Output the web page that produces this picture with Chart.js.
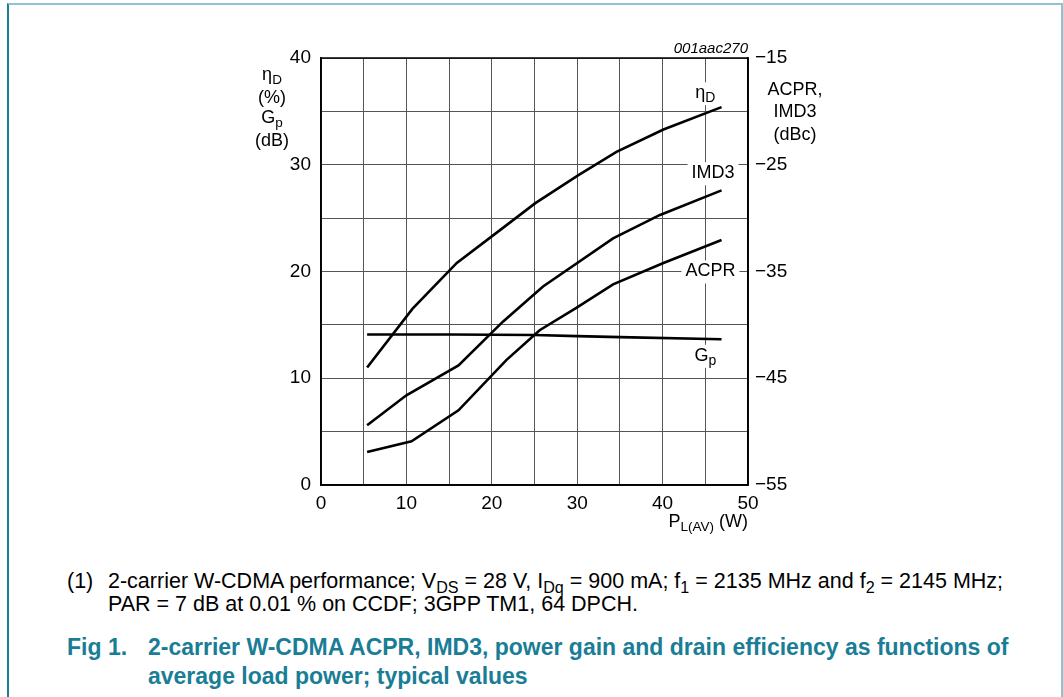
<!DOCTYPE html>
<html lang="en">
<head>
<meta charset="UTF-8">
<title>001aac270</title>
<script src="https://cdn.jsdelivr.net/npm/chart.js"></script>
<style>
  body { margin: 0; background: #fff; font-family: "Liberation Sans", Arial, sans-serif; color: #000; }
  #page { position: relative; width: 1063px; height: 697px; overflow: hidden; }
  #frame { position: absolute; left: 7px; top: 3px; width: 1052px; height: 720px;
           border-left: 2px solid #1b7f98; border-top: 2px solid #8fc3d0; border-right: 2px solid #8fc3d0; }
  #wrap { position: absolute; left: 0; top: 0; width: 1063px; height: 540px; }
  .t { position: absolute; font-size: 18px; line-height: 20px; white-space: nowrap; }
  .c { text-align: center; }
  sub { font-size: 0.75em; vertical-align: -0.3em; line-height: 0; }
  .note { font-size: 21.5px; line-height: 22px; }
  .cap { color: #1a7d96; font-weight: bold; font-size: 23px; line-height: 26px; }
</style>
</head>
<body>
<div id="page">
  <div id="frame"></div>
  <div id="wrap"><canvas id="chart" width="1063" height="540"></canvas></div>

  <div class="t" style="right:315px; top:38px; font-size:15px; font-style:italic; text-align:right;">001aac270</div>

  <div class="t c" style="left:242px; top:64px; width:60px;">&eta;<sub>D</sub></div>
  <div class="t c" style="left:242px; top:87px; width:60px;">(%)</div>
  <div class="t c" style="left:242px; top:107px; width:60px;">G<sub>p</sub></div>
  <div class="t c" style="left:242px; top:130px; width:60px;">(dB)</div>

  <div class="t c" style="left:765px; top:79px; width:60px;">ACPR,</div>
  <div class="t c" style="left:765px; top:101px; width:60px;">IMD3</div>
  <div class="t c" style="left:765px; top:124px; width:60px;">(dBc)</div>

  <div class="t" style="right:315px; top:511px; text-align:right;">P<sub>L(AV)</sub> (W)</div>

  <div class="t note" style="left:67px; top:570px;">(1)</div>
  <div class="t note" style="left:108px; top:570px;">2-carrier W-CDMA performance; V<sub>DS</sub> = 28 V, I<sub>Dq</sub> = 900 mA; f<sub>1</sub> = 2135 MHz and f<sub>2</sub> = 2145 MHz;</div>
  <div class="t note" style="left:108px; top:593px;">PAR = 7 dB at 0.01 % on CCDF; 3GPP TM1, 64 DPCH.</div>

  <div class="t cap" style="left:67px; top:634px;">Fig 1.</div>
  <div class="t cap" style="left:148px; top:634px;">2-carrier W-CDMA ACPR, IMD3, power gain and drain efficiency as functions of</div>
  <div class="t cap" style="left:148px; top:663px;">average load power; typical values</div>
</div>

<script>
// drain efficiency (%) vs load power (W)
const etaX = [5.4, 10.7, 15.9, 21.0, 25.1, 30.1, 34.6, 40.1, 46.9];
const etaY = [11.0, 16.5, 20.8, 23.9, 26.4, 29.0, 31.2, 33.3, 35.4];
// power gain (dB)
const gpX = [5.4, 15.0, 25.0, 30.0, 35.0, 46.9];
const gpY = [14.1, 14.1, 14.05, 13.95, 13.85, 13.65];
// IMD3 (dBc), right axis
const imdX = [5.4, 10.0, 16.1, 21.3, 26.0, 34.2, 39.7, 46.9];
const imdY = [-49.4, -46.6, -43.8, -39.7, -36.4, -31.9, -29.7, -27.4];
// ACPR (dBc), right axis
const acprX = [5.4, 10.6, 16.1, 21.7, 25.6, 29.9, 34.2, 40.1, 46.9];
const acprY = [-51.9, -50.9, -48.0, -43.3, -40.5, -38.4, -36.2, -34.2, -32.05];

// curve labels: [main, subscript, x, y, axis]
const curveLabels = [
  ['\u03b7', 'D', 45.0, 36.7, 'y'],
  ['IMD3', '', 45.9, 29.2, 'y'],
  ['ACPR', '', 45.6, 20.0, 'y'],
  ['G', 'p', 45.0, 12.1, 'y']
];

const pts = (xs, ys) => xs.map((x, i) => ({ x: x, y: ys[i] }));
const FONT = '"Liberation Sans", Arial, sans-serif';

const labelPlugin = {
  id: 'curveLabels',
  afterDatasetsDraw(chart) {
    const ctx = chart.ctx;
    const a = chart.chartArea;
    ctx.save();
    ctx.strokeStyle = '#000';
    ctx.lineWidth = 1.5;
    ctx.strokeRect(a.left, a.top, a.right - a.left, a.bottom - a.top);
    ctx.textBaseline = 'middle';
    curveLabels.forEach(l => {
      const px = chart.scales.x.getPixelForValue(l[2]);
      const py = chart.scales[l[4]].getPixelForValue(l[3]);
      ctx.font = '18px ' + FONT;
      const w1 = ctx.measureText(l[0]).width;
      ctx.font = '14px ' + FONT;
      const w2 = l[1] ? ctx.measureText(l[1]).width : 0;
      const w = w1 + w2;
      ctx.fillStyle = '#fff';
      ctx.fillRect(px - w / 2 - 4, py - 11, w + 8, 23);
      ctx.fillStyle = '#000';
      ctx.font = '18px ' + FONT;
      ctx.textAlign = 'left';
      ctx.fillText(l[0], px - w / 2, py);
      if (l[1]) {
        ctx.font = '14px ' + FONT;
        ctx.fillText(l[1], px - w / 2 + w1, py + 5);
      }
    });
    ctx.restore();
  }
};

const line = (data, axis) => ({
  data: data, yAxisID: axis, borderColor: '#000', borderWidth: 2.6,
  pointRadius: 0, tension: 0, fill: false
});

Chart.defaults.font.family = FONT;
Chart.defaults.font.size = 19;
Chart.defaults.color = '#000';

new Chart(document.getElementById('chart'), {
  type: 'line',
  data: {
    datasets: [
      line(pts(etaX, etaY), 'y'),
      line(pts(gpX, gpY), 'y'),
      line(pts(imdX, imdY), 'y2'),
      line(pts(acprX, acprY), 'y2')
    ]
  },
  options: {
    responsive: false,
    animation: false,
    layout: { padding: { left: 261, right: 255, top: 58, bottom: 18 } },
    plugins: { legend: { display: false }, tooltip: { enabled: false } },
    scales: {
      x: {
        type: 'linear', min: 0, max: 50,
        afterFit: s => { s.height = 37; },
        ticks: { stepSize: 5, padding: 7, maxRotation: 0, autoSkip: false,
                 callback: v => v % 10 === 0 ? v : '' },
        grid: { color: '#555', lineWidth: 1, drawTicks: false },
        border: { color: '#000', width: 1.5 }
      },
      y: {
        min: 0, max: 40,
        afterFit: s => { s.width = 60; },
        ticks: { stepSize: 5, padding: 10, autoSkip: false,
                 callback: v => v % 10 === 0 ? v : '' },
        grid: { color: '#555', lineWidth: 1, drawTicks: false },
        border: { color: '#000', width: 1.5 }
      },
      y2: {
        position: 'right', min: -55, max: -15,
        afterFit: s => { s.width = 60; },
        ticks: { stepSize: 5, padding: 7, autoSkip: false,
                 callback: v => (v + 55) % 10 === 0 ? '\u2212' + Math.abs(v) : '' },
        grid: { display: false, drawTicks: false },
        border: { color: '#000', width: 1.5 }
      }
    }
  },
  plugins: [labelPlugin]
});
</script>
</body>
</html>
